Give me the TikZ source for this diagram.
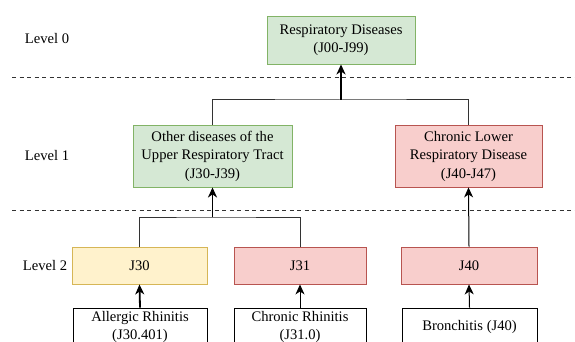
\documentclass[tikz,border=0pt]{standalone}
\usepackage{fontspec}
\setmainfont{Liberation Serif}
\usetikzlibrary{arrows.meta}

\definecolor{greenfill}{HTML}{D5E8D4}
\definecolor{greenline}{HTML}{82B366}
\definecolor{redfill}{HTML}{F8CECC}
\definecolor{redline}{HTML}{B85450}
\definecolor{yellowfill}{HTML}{FFF2CC}
\definecolor{yellowline}{HTML}{D6B656}

\tikzset{
  box/.style={rectangle, draw, line width=0.9pt, align=center, inner sep=2pt,
    font=\fontsize{14.6}{18.5}\selectfont},
  greenbox/.style={box, fill=greenfill, draw=greenline},
  redbox/.style={box, fill=redfill, draw=redline},
  yellowbox/.style={box, fill=yellowfill, draw=yellowline},
  plainbox/.style={box, fill=white, draw=black},
  levellabel/.style={font=\fontsize{14.6}{18.5}\selectfont},
  thinarrow/.style={-{Stealth[length=10pt,width=9pt,inset=3pt]}, line width=1pt},
  thickarrow/.style={-{Stealth[length=10pt,width=9pt,inset=3pt]}, line width=1.8pt},
  joinline/.style={line width=1pt, draw=black!80}
}

\begin{document}
\begin{tikzpicture}[x=1pt, y=-1pt]
  \useasboundingbox (0,0) rectangle (575,342);

  % level separators
  \draw [dashed, line width=0.9pt, black!80, dash pattern=on 4pt off 3.5pt] (12,77)--(575,77);
  \draw [dashed, line width=0.9pt, black!80, dash pattern=on 4pt off 3.5pt] (12,210)--(575,210);

  \node [levellabel] (lvl0) at (47,39) {Level 0};
  \node [levellabel] (lvl1) at (47,156) {Level 1};
  \node [levellabel] (lvl2) at (45,266) {Level 2};

  % level 0
  \node [greenbox, minimum width=148pt, minimum height=48pt] (resp) at (341,40)
    {Respiratory Diseases\\(J00-J99)};

  % level 1
  \node [greenbox, minimum width=159pt, minimum height=62pt] (upper) at (212.5,156)
    {Other diseases of the\\Upper Respiratory Tract\\(J30-J39)};
  \node [redbox, minimum width=147pt, minimum height=62pt] (lower) at (468.5,156)
    {Chronic Lower\\Respiratory Disease\\(J40-J47)};

  % level 2
  \node [yellowbox, minimum width=135pt, minimum height=37pt] (jthirty) at (139.5,265.5) {J30};
  \node [redbox, minimum width=132pt, minimum height=37pt] (jthirtyone) at (300,265.5) {J31};
  \node [redbox, minimum width=136pt, minimum height=37pt] (jforty) at (469,265.5) {J40};

  % diseases
  \node [plainbox, minimum width=134pt, minimum height=38pt] (allergic) at (140,327)
    {Allergic Rhinitis\\(J30.401)};
  \node [plainbox, minimum width=132pt, minimum height=38pt] (chronic) at (300,327)
    {Chronic Rhinitis\\(J31.0)};
  \node [plainbox, minimum width=135pt, minimum height=38pt] (bronch) at (469.5,327)
    {Bronchitis (J40)};

  % connectors
  \coordinate (jointop) at (341,100);
  \draw [joinline] (upper.north) |- (jointop) -| (lower.north);
  \draw [thickarrow] (jointop)--(resp.south);

  \coordinate (joinmid) at (212.5,217);
  \draw [joinline] (jthirty.north) |- (joinmid) -| (jthirtyone.north);
  \draw [thickarrow] (joinmid)--(upper.south);

  \draw [thinarrow] (jforty.north)--(lower.south);
  \draw [thickarrow] (allergic.north)--(jthirty.south);
  \draw [thinarrow] (chronic.north)--(jthirtyone.south);
  \draw [thinarrow] (bronch.north)--(jforty.south);
\end{tikzpicture}
\end{document}
